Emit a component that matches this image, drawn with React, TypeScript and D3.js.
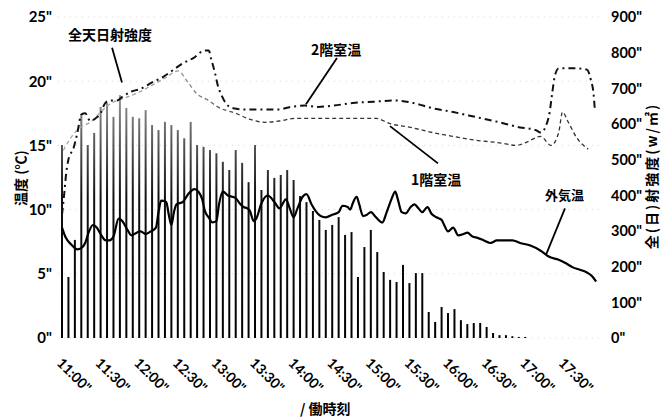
import React from 'react';
import * as d3 from 'd3';

// Time axis: minutes after 11:00, labelled every 30 minutes
const TIME_LABELS = ['11:00"', '11:30"', '12:00"', '12:30"', '13:00"', '13:30"', '14:00"', '14:30"', '15:00"', '15:30"', '16:00"', '16:30"', '17:00"', '17:30"'];
const TEMP_TICKS = [0, 5, 10, 15, 20, 25];
const RAD_TICKS = [0, 100, 200, 300, 400, 500, 600, 700, 800, 900];

// Global solar radiation (W/m²), one reading every 5 minutes from 11:00
const RADIATION = [
  541, 171, 275, 625, 541, 575, 648, 659, 620, 681,
  645, 620, 616, 639, 597, 583, 606, 597, 583, 560,
  606, 541, 536, 527, 518, 494, 471, 527, 491, 437,
  541, 415, 471, 449, 457, 471, 443, 398, 381, 356,
  331, 303, 317, 339, 289, 297, 171, 255, 303, 241,
  185, 163, 157, 205, 154, 182, 182, 73, 45, 87,
  70, 81, 50, 39, 42, 42, 31, 14, 8, 8,
  5, 3, 3,
];

// Outdoor air temperature (°C): [minutes after 11:00, value]
const OUTDOOR: [number, number][] = [
  [0, 8.6], [3, 7.8], [7, 7.3], [12, 6.9], [15, 7.0], [18, 7.4], [21, 8.3], [24, 8.8], [27, 8.6], [30, 8.1],
  [34, 7.6], [37, 7.6], [40, 7.9], [44, 9.3], [47, 9.1], [51, 8.4], [54, 8.0], [58, 8.2], [61, 8.3], [65, 8.1],
  [69, 8.3], [73, 8.6], [75, 9.8], [77, 10.7], [81, 10.6], [83, 9.6], [85, 8.8], [87, 9.8], [89, 10.4], [94, 10.6],
  [98, 11.2], [103, 11.6], [106, 11.4], [109, 10.8], [111, 9.9], [114, 9.4], [117, 9.0], [120, 9.1], [122, 10.4], [125, 11.4],
  [129, 11.1], [135, 10.9], [138, 10.5], [141, 10.2], [144, 10.1], [146, 9.9], [149, 9.1], [151, 9.3], [155, 10.5], [160, 11.1],
  [165, 10.6], [169, 10.1], [174, 10.8], [177, 10.1], [180, 9.4], [183, 10.1], [187, 11.0], [190, 11.2], [194, 10.4], [197, 9.9],
  [201, 9.5], [205, 9.4], [210, 9.6], [215, 9.8], [218, 10.3], [222, 10.2], [224, 10.0], [226, 10.5], [229, 11.0], [231, 10.4],
  [234, 9.5], [237, 9.6], [240, 9.8], [244, 9.4], [249, 9.0], [252, 9.7], [256, 10.8], [259, 11.4], [261, 10.8], [264, 9.8],
  [267, 9.7], [271, 10.2], [274, 10.4], [277, 10.1], [280, 9.8], [284, 10.2], [287, 9.7], [291, 9.4], [295, 9.2], [297, 8.8],
  [300, 8.3], [304, 8.6], [308, 8.0], [312, 8.1], [315, 8.2], [319, 7.9], [323, 7.8], [328, 7.6], [333, 7.4], [338, 7.6],
  [344, 7.6], [350, 7.6], [356, 7.4], [364, 7.2], [372, 6.8], [379, 6.3], [386, 6.1], [392, 5.8], [397, 5.5], [403, 5.3],
  [408, 5.1], [412, 4.8], [415, 4.4],
];

// 2nd-floor room temperature (°C)
const ROOM_2F: [number, number][] = [
  [0, 9.6], [2, 11.5], [3, 12.6], [5, 13.9], [9, 14.8], [12, 16.0], [15, 17.4], [18, 17.5], [22, 16.9], [26, 17.1],
  [30, 17.5], [33, 18.2], [37, 18.5], [43, 18.5], [47, 18.8], [54, 19.2], [61, 19.4], [70, 19.9], [78, 20.3], [84, 20.7],
  [94, 21.4], [102, 21.8], [111, 22.4], [114, 22.4], [116, 21.7], [119, 20.6], [121, 19.7], [124, 18.9], [128, 18.2], [133, 17.9],
  [142, 17.8], [152, 17.8], [162, 17.8], [168, 17.8], [178, 18.0], [189, 18.1], [199, 18.0], [211, 18.1], [226, 18.3], [242, 18.4],
  [259, 18.5], [273, 18.3], [288, 17.9], [304, 17.6], [322, 17.2], [340, 16.8], [356, 16.4], [368, 16.2], [372, 16.0], [376, 16.5],
  [379, 17.6], [381, 19.1], [383, 20.4], [386, 21.0], [393, 21.0], [400, 21.0], [408, 20.9], [411, 20.1], [413, 19.1], [414, 17.9],
];

// 1st-floor room temperature (°C)
const ROOM_1F: [number, number][] = [
  [1, 14.6], [5, 15.3], [10, 16.0], [16, 16.5], [22, 16.8], [30, 17.6], [37, 18.2], [49, 18.7], [61, 19.2], [72, 19.8],
  [81, 20.3], [90, 20.8], [98, 19.9], [104, 19.1], [114, 18.5], [121, 18.0], [135, 17.5], [147, 17.0], [158, 16.8], [169, 16.9],
  [181, 17.1], [189, 17.1], [201, 17.1], [212, 17.1], [226, 17.1], [244, 17.1], [255, 16.7], [271, 16.4], [288, 16.0], [304, 15.7],
  [322, 15.4], [340, 15.2], [353, 15.0], [360, 15.2], [372, 15.7], [380, 15.0], [386, 16.0], [389, 17.6], [393, 16.9], [400, 15.6],
  [409, 14.7],
];

const W = 666;
const H = 417;
const NUM_FONT = "Lato, 'Liberation Sans', sans-serif";
const JP_FONT = "'Noto Sans CJK JP', 'Noto Sans CJK SC', sans-serif";

const x = d3.scaleLinear().domain([0, 415]).range([62, 596]);
const yT = d3.scaleLinear().domain([0, 25]).range([338, 17]);
const yR = d3.scaleLinear().domain([0, 900]).range([338, 17]);

const tempLine = d3
  .line<[number, number]>()
  .x((d) => x(d[0]))
  .y((d) => yT(d[1]))
  .curve(d3.curveMonotoneX);

export default function App() {
  return (
    <svg
      width={W}
      height={H}
      style={{ position: 'absolute', left: 0, top: 0, background: '#fff' }}
    >
      <defs>
        <linearGradient id="barFade" gradientUnits="userSpaceOnUse" x1="0" y1={yR(0)} x2="0" y2={yR(720)}>
          <stop offset="0" stopColor="#000" />
          <stop offset="0.55" stopColor="#111" />
          <stop offset="0.8" stopColor="#666" />
          <stop offset="1" stopColor="#aaa" />
        </linearGradient>
        <linearGradient id="floor1Fade" gradientUnits="userSpaceOnUse" x1={x(0)} y1="0" x2={x(150)} y2="0">
          <stop offset="0" stopColor="#aaa" />
          <stop offset="0.6" stopColor="#999" />
          <stop offset="1" stopColor="#333" />
        </linearGradient>
      </defs>

      {/* faint dotted grid */}
      {TEMP_TICKS.map((t) => (
        <line
          key={`g${t}`}
          x1={58}
          x2={600}
          y1={yT(t)}
          y2={yT(t)}
          stroke="#c8c8c8"
          strokeWidth={0.7}
          strokeDasharray="1,5"
        />
      ))}

      {/* solar radiation bars */}
      {RADIATION.map((v, i) => (
        <line
          key={`b${i}`}
          x1={x(i * 5)}
          x2={x(i * 5)}
          y1={yR(0)}
          y2={yR(v)}
          stroke="url(#barFade)"
          strokeWidth={2}
        />
      ))}

      {/* room temperatures */}
      <path
        d={tempLine(ROOM_1F) || ''}
        fill="none"
        stroke="url(#floor1Fade)"
        strokeWidth={1.3}
        strokeDasharray="4,3"
      />
      <path
        d={tempLine(ROOM_2F) || ''}
        fill="none"
        stroke="#111"
        strokeWidth={2}
        strokeDasharray="7,4,2,4"
      />

      {/* outdoor temperature */}
      <path d={tempLine(OUTDOOR) || ''} fill="none" stroke="#000" strokeWidth={2.2} strokeLinejoin="round" />

      {/* left axis ticks */}
      {TEMP_TICKS.map((t) => (
        <text
          key={`l${t}`}
          x={52}
          y={yT(t)}
          dy="0.36em"
          textAnchor="end"
          fontFamily={NUM_FONT}
          fontWeight={700}
          fontSize={15}
          fill="#000"
        >
          {`${t}"`}
        </text>
      ))}

      {/* right axis ticks */}
      {RAD_TICKS.map((t) => (
        <text
          key={`r${t}`}
          x={611}
          y={yR(t)}
          dy="0.36em"
          textAnchor="start"
          fontFamily={NUM_FONT}
          fontWeight={700}
          fontSize={14.5}
          fill="#000"
        >
          {`${t}"`}
        </text>
      ))}

      {/* time labels */}
      {TIME_LABELS.map((lab, i) => (
        <text
          key={`t${i}`}
          transform={`translate(${x(i * 30) - 6},364) rotate(45)`}
          fontFamily={NUM_FONT}
          fontWeight={700}
          fontSize={14}
          fill="#000"
        >
          {lab}
        </text>
      ))}

      {/* axis titles */}
      <text
        transform="translate(26,178) rotate(-90)"
        textAnchor="middle"
        fontFamily={JP_FONT}
        fontWeight={700}
        fontSize={14}
        fill="#000"
      >
        温度 (℃)
      </text>
      <text
        transform="translate(657,176) rotate(-90)"
        textAnchor="middle"
        fontFamily={JP_FONT}
        fontWeight={700}
        fontSize={14}
        letterSpacing={2}
        fill="#000"
      >
        全(日)射強度(w/㎡)
      </text>
      <text x={300} y={414} fontFamily={JP_FONT} fontWeight={700} fontSize={14} fill="#000">
        / 働時刻
      </text>

      {/* series annotations */}
      <text x={68} y={40} fontFamily={JP_FONT} fontWeight={700} fontSize={14} fill="#000">
        全天日射強度
      </text>
      <line x1={x(38.9)} y1={yT(22.6)} x2={x(46.6)} y2={yT(19.9)} stroke="#000" strokeWidth={1.8} />

      <text x={311} y={55} fontFamily={JP_FONT} fontWeight={700} fontSize={14} fill="#000">
        2階室温
      </text>
      <line x1={x(213.7)} y1={yT(21.8)} x2={x(189.6)} y2={yT(18.2)} stroke="#000" strokeWidth={1.8} />

      <text x={411} y={185} fontFamily={JP_FONT} fontWeight={700} fontSize={14} fill="#000">
        1階室温
      </text>
      <line x1={x(254.9)} y1={yT(16.5)} x2={x(292.2)} y2={yT(13.6)} stroke="#000" strokeWidth={1.8} />

      <text x={545} y={200} fontFamily={JP_FONT} fontWeight={700} fontSize={13} fill="#000">
        外気温
      </text>
      <line x1={x(390.9)} y1={yT(10.1)} x2={x(376.2)} y2={yT(6.5)} stroke="#000" strokeWidth={1.8} />
    </svg>
  );
}
